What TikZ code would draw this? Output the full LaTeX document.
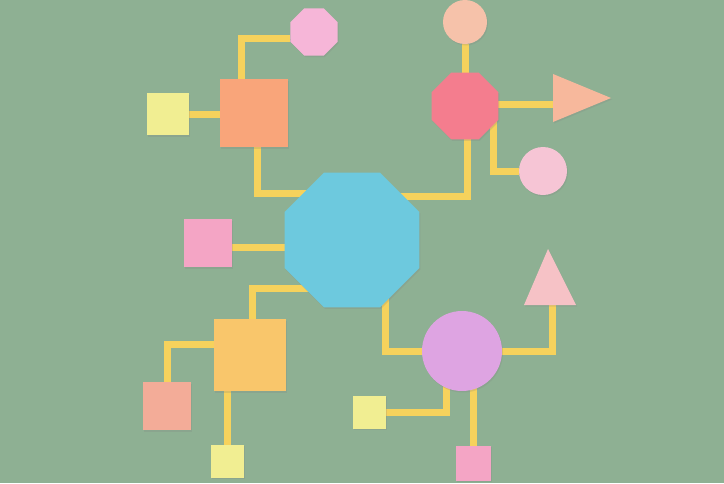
\documentclass[tikz,border=0pt]{standalone}
\usetikzlibrary{shapes.geometric,shadows,calc}

\definecolor{bggreen}{HTML}{8EB093}
\definecolor{stripyellow}{HTML}{F6D25C}
\definecolor{hubblue}{HTML}{6DC9DE}
\definecolor{sqorange}{HTML}{F9A57A}
\definecolor{sqlemon}{HTML}{F1EE92}
\definecolor{octpink}{HTML}{F6B6D8}
\definecolor{discpeach}{HTML}{F6C2AA}
\definecolor{octred}{HTML}{F47D8E}
\definecolor{tripeach}{HTML}{F7B89C}
\definecolor{discrose}{HTML}{F6C5D5}
\definecolor{sqpink}{HTML}{F4A5C5}
\definecolor{sqgold}{HTML}{F9C66B}
\definecolor{sqsalmon}{HTML}{F3AC98}
\definecolor{discviolet}{HTML}{DEA4E2}
\definecolor{trirose}{HTML}{F6C2C6}

\pgfdeclarelayer{board}
\pgfdeclarelayer{strips}
\pgfsetlayers{board,strips,main}

\tikzset{
  paper/.style={inner sep=0pt, outer sep=0pt,
    drop shadow={opacity=0.22, shadow xshift=1pt, shadow yshift=-1.5pt}},
  sq/.style={paper, rectangle, minimum size=#1},
  oct/.style={paper, regular polygon, regular polygon sides=8, minimum size=#1},
  disc/.style={paper, circle, minimum size=#1},
  strip/.style={line width=7pt, draw=stripyellow, line cap=butt, line join=miter,
    preaction={draw=black!70!green, opacity=0.18, transform canvas={shift={(1pt,-1.5pt)}}}}
}

\begin{document}
\begin{tikzpicture}[x=1pt,y=-1pt]
\begin{pgfonlayer}{board}
  \fill[bggreen] (0,0) rectangle (724,483);
\end{pgfonlayer}
\useasboundingbox (0,0) rectangle (724,483);

 % the shapes
 \node[oct=146pt, fill=hubblue] (hub) at (352,240) {};
 \node[sq=68pt, fill=sqorange] (osq) at (254,113) {};
 \node[sq=42pt, fill=sqlemon] (ysqA) at (168,114) {};
 \node[oct=51pt, fill=octpink] (poct) at (314,32) {};
 \node[oct=72pt, fill=octred] (roct) at (465,106) {};
 \node[disc=44pt, fill=discpeach] (pcirc) at (465,22) {};
 \node[disc=48pt, fill=discrose] (lcirc) at (543,171) {};
 \node[sq=48pt, fill=sqpink] (psq) at (208,243) {};
 \node[sq=72pt, fill=sqgold] (gsq) at (250,355) {};
 \node[sq=48pt, fill=sqsalmon] (ssq) at (167,406) {};
 \node[sq=33pt, fill=sqlemon] (ysqB) at (227,461) {};
 \node[disc=80pt, fill=discviolet] (vcirc) at (462,351) {};
 \node[sq=33pt, fill=sqlemon] (ysqC) at (369,412) {};
 \node[sq=35pt, fill=sqpink] (pksq) at (473,463) {};

 % the two triangles
 \coordinate (triR) at (553,98);
 \coordinate (triU) at (552,305);
 \fill[tripeach, drop shadow={opacity=0.22, shadow xshift=1pt, shadow yshift=-1.5pt}]
   (553,74) -- (611,98) -- (553,122) -- cycle;
 \fill[trirose, drop shadow={opacity=0.22, shadow xshift=1pt, shadow yshift=-1.5pt}]
   (524,305) -- (548,249) -- (576,305) -- cycle;

\begin{pgfonlayer}{strips}
 \draw[strip] (ysqA.east) -- (ysqA.east -| osq.west);
 \draw[strip] ($(osq.north)+(-13,0)$) |- ($(poct.west)+(0,6)$);
 \draw[strip] ($(osq.south)+(3,0)$) |- ($(hub.center)+(0,-47)$);

 \draw[strip] (pcirc.south) -- (roct.north);
 \draw[strip] ($(roct.east)+(0,-2)$) -- ($(roct.east -| triR)+(0,-2)$);
 \draw[strip] ($(roct.center)+(28,0)$) |- (lcirc.west);
 \draw[strip] ($(roct.center)+(2,0)$) |- ($(hub.center)+(0,-44)$);

 \draw[strip] ($(psq.east)+(0,4)$) -- ($(hub.center)+(0,7)$);
 \draw[strip] ($(gsq.north)+(2,0)$) |- ($(hub.center)+(0,48)$);
 \draw[strip] ($(gsq.west)+(0,-11)$) -| (ssq.north);
 \draw[strip] (ysqB.north) -- (ysqB.north |- gsq.south);

 \draw[strip] ($(hub.center)+(33,0)$) |- (vcirc.west);
 \draw[strip] (vcirc.east) -| (triU);
 \draw[strip] (ysqC.east) -| ($(vcirc.center)+(-16,0)$);
 \draw[strip] (pksq.north) -- (pksq.north |- vcirc.center);
\end{pgfonlayer}
\end{tikzpicture}
\end{document}
